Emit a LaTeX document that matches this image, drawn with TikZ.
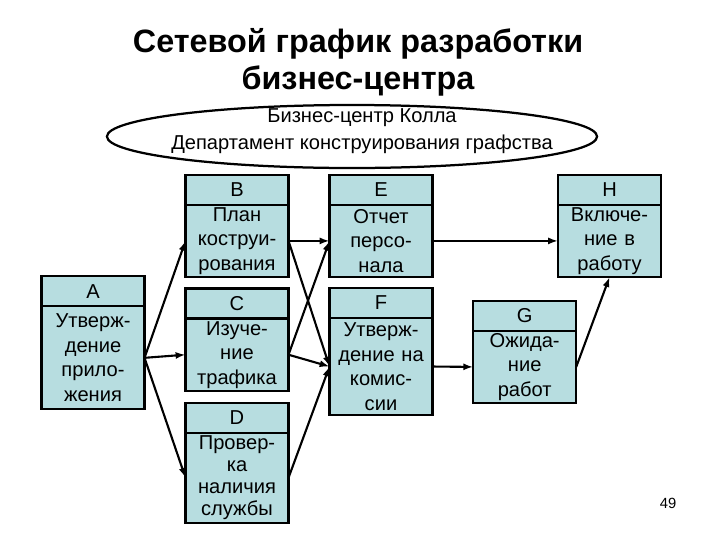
\documentclass[tikz,border=0pt]{standalone}
\usepackage{fontspec}
\setmainfont{Liberation Sans}
\usepackage{tikz}
\usetikzlibrary{arrows.meta,positioning,shapes.geometric}
\definecolor{boxfill}{HTML}{B7DDE0}

\begin{document}
\begin{tikzpicture}[x=0.025cm,y=-0.025cm,
	head/.style={draw=black,line width=1.6pt,fill=boxfill,outer sep=0pt,inner sep=0pt,minimum width=2.575cm,minimum height=0.75cm,font=\fontsize{14.3}{17}\selectfont},
	work/.style={draw=black,line width=1.6pt,fill=boxfill,outer sep=0pt,inner sep=0pt,minimum width=2.575cm,text width=2.5cm,align=center,font=\fontsize{14.3}{17.4}\selectfont},
	link/.style={-{Latex[length=7pt,width=5pt]},line width=1.5pt}
	]
	\fill[white] (0,0) rectangle (720,540);
	\useasboundingbox (0,0) rectangle (720,540);
	\node[font=\fontsize{23}{26.3}\selectfont\bfseries,align=center] (title) at (358,62) {Сетевой график разработки\\бизнес-центра};
	\node[ellipse,draw,line width=1.6pt,minimum width=12.25cm,minimum height=1.575cm,inner sep=0pt] (dept) at (352,136.5) {};
	\node[font=\fontsize{14.3}{19.2}\selectfont,align=center] (deptname) at (362,131.5) {Бизнес-центр Колла\\Департамент конструирования графства};
	% activities: letter on top, task below
	\node[head] (hA) at (93,291.3) {A};
	\node[work,minimum height=2.575cm,below=0pt of hA] (A) {Утверж-\\дение\\прило-\\жения};
	\node[head] (hB) at (237,189.7) {B};
	\node[work,minimum height=1.81cm,below=0pt of hB] (B) {План\\коструи-\\рования};
	\node[head] (hC) at (237,303.5) {C};
	\node[work,minimum height=1.81cm,below=0pt of hC] (C) {Изуче-\\ние\\трафика};
	\node[head] (hD) at (237,417.7) {D};
	\node[work,minimum height=2.25cm,below=0pt of hD,font=\fontsize{14.3}{15.6}\selectfont] (D) {Провер-\\ка\\наличия\\службы};
	\node[head] (hE) at (381,189.7) {E};
	\node[work,minimum height=1.81cm,below=0pt of hE] (E) {Отчет\\персо-\\нала};
	\node[head] (hF) at (381,303) {F};
	\node[work,minimum height=2.425cm,below=0pt of hF] (F) {Утверж-\\дение на\\комис-\\сии};
	\node[head] (hG) at (524.7,315.7) {G};
	\node[work,minimum height=1.81cm,below=0pt of hG] (G) {Ожида-\\ние\\работ};
	\node[head] (hH) at (609.5,189.7) {H};
	\node[work,minimum height=1.81cm,below=0pt of hH] (H) {Включе-\\ние в\\работу};
	% links
	\draw[link] (A.east) -- (B.west);
	\draw[link] (A.east) -- (C.west);
	\draw[link] (A.east) -- (D.west);
	\draw[link] (B.east) -- (E.west);
	\draw[link] (B.east) -- (F.west);
	\draw[link] (C.east) -- (E.west);
	\draw[link] (C.east) -- (F.west);
	\draw[link] (D.east) -- (F.west);
	\draw[link] (E.east) -- (H.west);
	\draw[link] (F.east) -- (G.west);
	\draw[link] (G.east) -- (H.south);
	\node[font=\fontsize{10.5}{12}\selectfont] (pagenum) at (668,503) {49};
\end{tikzpicture}
\end{document}
